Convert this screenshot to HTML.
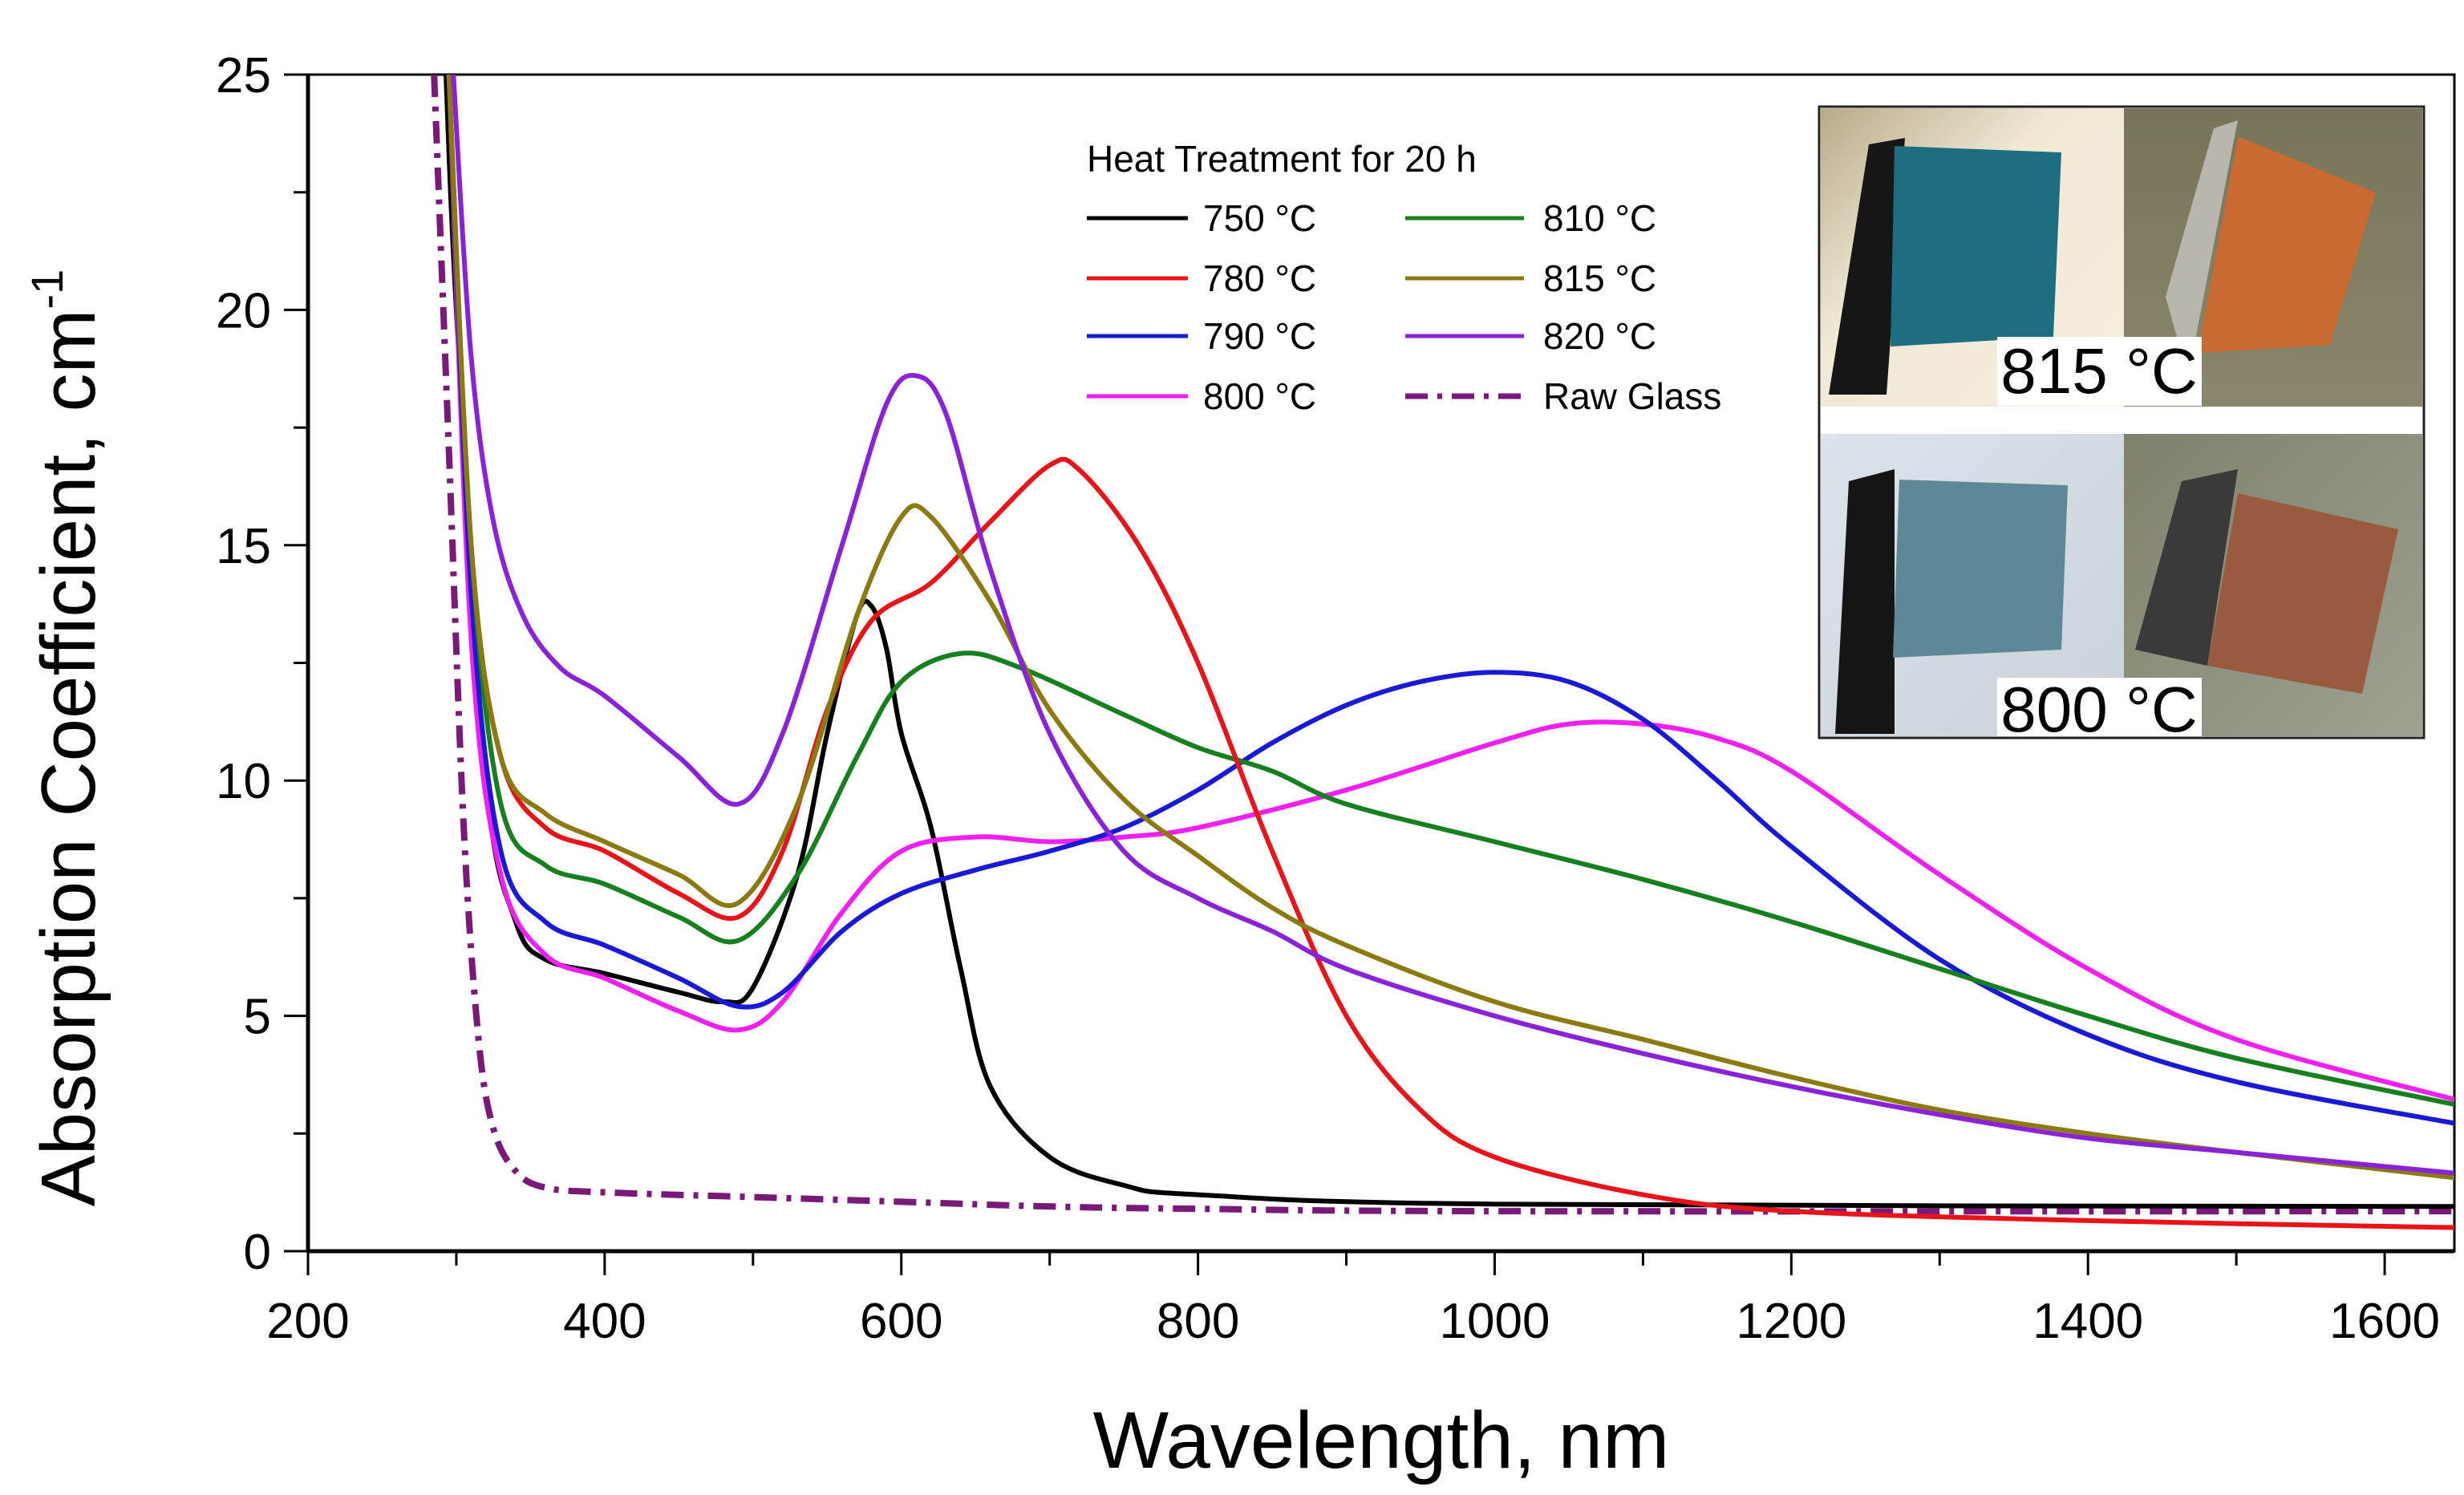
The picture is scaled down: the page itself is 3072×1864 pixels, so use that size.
<!DOCTYPE html>
<html><head><meta charset="utf-8"><style>
body{margin:0;background:#fff}
svg{display:block;font-family:"Liberation Sans",Arial,sans-serif}
</style></head><body>
<svg id="chart" width="3072" height="1864" viewBox="0 0 3072 1864">
<defs><clipPath id="plotclip"><rect x="384" y="93" width="2676" height="1467"/></clipPath>
<linearGradient id="bgL1" x1="0" y1="0" x2="1" y2="1"><stop offset="0" stop-color="#b8ab8a"/><stop offset="0.4" stop-color="#f1e9d6"/><stop offset="1" stop-color="#f6efe0"/></linearGradient>
<linearGradient id="bgR" x1="0" y1="0" x2="0" y2="1"><stop offset="0" stop-color="#77745a"/><stop offset="1" stop-color="#8a876c"/></linearGradient>
<linearGradient id="bgL2" x1="0" y1="0" x2="1" y2="1"><stop offset="0" stop-color="#dde3ea"/><stop offset="1" stop-color="#c9d2da"/></linearGradient>
<linearGradient id="bgR2" x1="0" y1="0" x2="1" y2="1"><stop offset="0" stop-color="#80806e"/><stop offset="1" stop-color="#9ea290"/></linearGradient>
</defs>
<g id="axes"></g>
<g id="series" clip-path="url(#plotclip)"></g>
<g id="legend">
<text x="1355" y="214" font-size="46">Heat Treatment for 20 h</text>
</g>
<g id="inset">
<rect x="2268" y="133" width="754" height="787" fill="#fff" stroke="#222" stroke-width="3"/>
<rect x="2270" y="135" width="378" height="372" fill="url(#bgL1)"/>
<rect x="2648" y="135" width="372" height="372" fill="url(#bgR)"/>
<polygon points="2280,492 2330,180 2375,172 2352,492" fill="#161616"/>
<polygon points="2362,182 2570,190 2560,420 2357,432" fill="#1e6d82"/>
<polygon points="2700,370 2760,160 2790,150 2728,470" fill="#b9b7ad"/>
<polygon points="2790,170 2962,240 2905,430 2740,440" fill="#c96a32"/>
<rect x="2490" y="420" width="255" height="86" fill="#fff"/>
<text x="2617" y="490" font-size="80" text-anchor="middle">815 °C</text>
<rect x="2270" y="541" width="378" height="377" fill="url(#bgL2)"/>
<rect x="2648" y="541" width="372" height="377" fill="url(#bgR2)"/>
<polygon points="2288,915 2305,600 2362,585 2362,915" fill="#151515"/>
<polygon points="2368,598 2578,605 2570,810 2360,820" fill="#5e8797"/>
<polygon points="2662,810 2720,600 2790,585 2752,830" fill="#3a3a3a"/>
<polygon points="2790,615 2990,660 2945,865 2752,830" fill="#9a5a3f"/>
<rect x="2490" y="845" width="255" height="73" fill="#fff"/>
<text x="2617" y="912" font-size="80" text-anchor="middle">800 °C</text>
</g>
</svg>
<script>
const xTicks=[200,400,600,800,1000,1200,1400,1600];
const yTicks=[0,5,10,15,20,25];
const seriesNames=["750 °C","780 °C","790 °C","800 °C","810 °C","815 °C","820 °C","Raw Glass"];
const seriesColors=["#000000","#e8141a","#1a1ad6","#f020f0","#17801e","#8a7a10","#8a22d8","#7a1a78"];
const wl750=[293,300,320,340,360,400,450,480,500,530,550,570,580,590,600,620,640,660,700,750,800,1000,1650];
const v750=[25,20,10,7,6.2,5.9,5.5,5.3,5.6,8,11,13.5,13.7,12.8,11,9,6,3.5,2,1.4,1.2,1.0,0.95];
const wl780=[295,310,330,360,400,450,490,520,550,580,620,660,700,720,760,800,850,900,950,1000,1100,1200,1400,1650];
const v780=[25,15,10.5,9,8.5,7.6,7.1,8.5,11.5,13.4,14.2,15.5,16.7,16.6,15,12.5,8.5,5,3,2,1.2,0.85,0.65,0.5];
const wl790=[295,310,330,360,400,450,490,520,560,600,650,700,750,800,850,900,950,1000,1050,1100,1150,1200,1300,1400,1500,1650];
const v790=[25,14,8.5,7,6.5,5.8,5.2,5.5,6.8,7.6,8.1,8.5,9.0,9.8,10.8,11.6,12.1,12.3,12.1,11.3,10,8.6,6.2,4.6,3.6,2.7];
const wl800=[295,310,330,360,400,450,490,520,560,600,650,700,750,800,900,1000,1050,1100,1150,1200,1300,1400,1500,1650];
const v800=[25,13,8,6.3,5.8,5.1,4.7,5.3,7.2,8.5,8.8,8.7,8.8,9.0,9.8,10.8,11.2,11.2,10.9,10.2,8.0,6.0,4.5,3.2];
const wl810=[295,310,330,360,400,450,490,530,570,600,640,680,750,800,850,900,1000,1100,1200,1300,1400,1500,1650];
const v810=[25,15,9.5,8.2,7.8,7.1,6.6,8,10.5,12.1,12.7,12.4,11.4,10.7,10.2,9.5,8.7,7.9,7.0,6.0,5.0,4.1,3.1];
const wl815=[295,310,330,360,400,450,490,530,570,600,620,660,700,750,800,850,900,1000,1100,1200,1300,1400,1500,1650];
const v815=[25,15,10.5,9.3,8.7,8.0,7.4,9.5,13.5,15.6,15.6,13.8,11.5,9.6,8.4,7.3,6.5,5.3,4.5,3.7,3.0,2.5,2.1,1.55];
const wl820=[298,310,325,345,370,400,450,490,520,560,590,610,630,660,700,750,800,850,900,1000,1100,1200,1300,1400,1500,1650];
const v820=[25,19,15.5,13.5,12.4,11.8,10.5,9.5,11,15,18,18.6,17.8,14.5,11,8.5,7.5,6.8,6.0,5.0,4.2,3.5,2.9,2.4,2.1,1.65];
const wlRaw=[285,295,305,315,325,340,360,400,500,600,700,800,1000,1650];
const vRaw=[25,17,9,4.5,2.6,1.7,1.35,1.25,1.15,1.05,0.95,0.9,0.85,0.85];

const NS="http://www.w3.org/2000/svg";
const L=384,R=3060,T=93,B=1560,XMIN=200,XMAX=1647,YMIN=0,YMAX=25;
const xs=v=>L+(v-XMIN)/(XMAX-XMIN)*(R-L);
const ys=v=>B-(v-YMIN)/(YMAX-YMIN)*(B-T);
function mk(tag,attrs,parent){const e=document.createElementNS(NS,tag);for(const k in attrs)e.setAttribute(k,attrs[k]);parent.appendChild(e);return e;}
const axes=document.getElementById('axes');
const frame=mk('rect',{x:L,y:T,width:R-L,height:B-T,fill:'none',stroke:'#000','stroke-width':3},axes);


mk('line',{x1:L,y1:T,x2:L,y2:B,stroke:'#000','stroke-width':5},axes);
mk('line',{x1:L,y1:B,x2:R,y2:B,stroke:'#000','stroke-width':5},axes);
for(let v=200;v<=1600;v+=100){const x=xs(v);const major=v%200===0;
 mk('line',{x1:x,y1:B,x2:x,y2:B+(major?30:18),stroke:'#000','stroke-width':3},axes);}
xTicks.forEach(v=>{const t=mk('text',{x:xs(v),y:1668,'font-size':62,'text-anchor':'middle'},axes);t.textContent=v;
 
 });
for(let v=0;v<=25;v+=2.5){const y=ys(v);const major=v%5===0;
 mk('line',{x1:L,y1:y,x2:L-(major?30:18),y2:y,stroke:'#000','stroke-width':3},axes);}
yTicks.forEach(v=>{const t=mk('text',{x:338,y:ys(v)+22,'font-size':62,'text-anchor':'end'},axes);t.textContent=v;
 
 });
const xt=mk('text',{x:1722,y:1830,'font-size':100,'text-anchor':'middle'},axes);xt.textContent='Wavelength, nm';


const yt=mk('text',{x:0,y:0,'font-size':96,'text-anchor':'middle',transform:'translate(118,920) rotate(-90)'},axes);
yt.innerHTML='Absorption Coefficient, cm<tspan dy="-40" font-size="56">-1</tspan>';



function pathFrom(wl,vals){const p=wl.map((w,i)=>[xs(w),ys(vals[i])]);
 let d='M'+p[0][0]+','+p[0][1];
 for(let i=0;i<p.length-1;i++){const p0=p[i-1]||p[i],p1=p[i],p2=p[i+1],p3=p[i+2]||p2;
  const c1=[p1[0]+(p2[0]-p0[0])/6,p1[1]+(p2[1]-p0[1])/6],c2=[p2[0]-(p3[0]-p1[0])/6,p2[1]-(p3[1]-p1[1])/6];
  d+=` C${c1[0]},${c1[1]} ${c2[0]},${c2[1]} ${p2[0]},${p2[1]}`;}
 return d;}
const allW=[wl750,wl780,wl790,wl800,wl810,wl815,wl820,wlRaw];
const allV=[v750,v780,v790,v800,v810,v815,v820,vRaw];
const sg=document.getElementById('series');
const order=[7,0,3,2,4,1,5,6];
order.forEach(i=>{const a={d:pathFrom(allW[i],allV[i]),fill:'none',stroke:seriesColors[i],'stroke-width':i===7?8:6,'stroke-linejoin':'round'};
 if(i===7)a['stroke-dasharray']='28,12,6,12';
 const p=mk('path',a,sg);
 
 });
const lg=document.getElementById('legend');
const rowsY=[272,347,419,494];
seriesNames.forEach((n,i)=>{const col=i<4?0:1,row=i%4;const x0=col?1752:1355,x1=col?1900:1481,tx=col?1924:1500;const y=rowsY[row];
 const a={x1:x0,y1:y,x2:x1,y2:y,stroke:seriesColors[i],'stroke-width':5};
 if(i===7){a['stroke-dasharray']='28,12,6,12';a['stroke-width']=7;}
 const ln=mk('line',a,lg);
 
 
 const t=mk('text',{x:tx,y:y+16,'font-size':46},lg);t.textContent=n;
 
 });
</script>
</body></html>
